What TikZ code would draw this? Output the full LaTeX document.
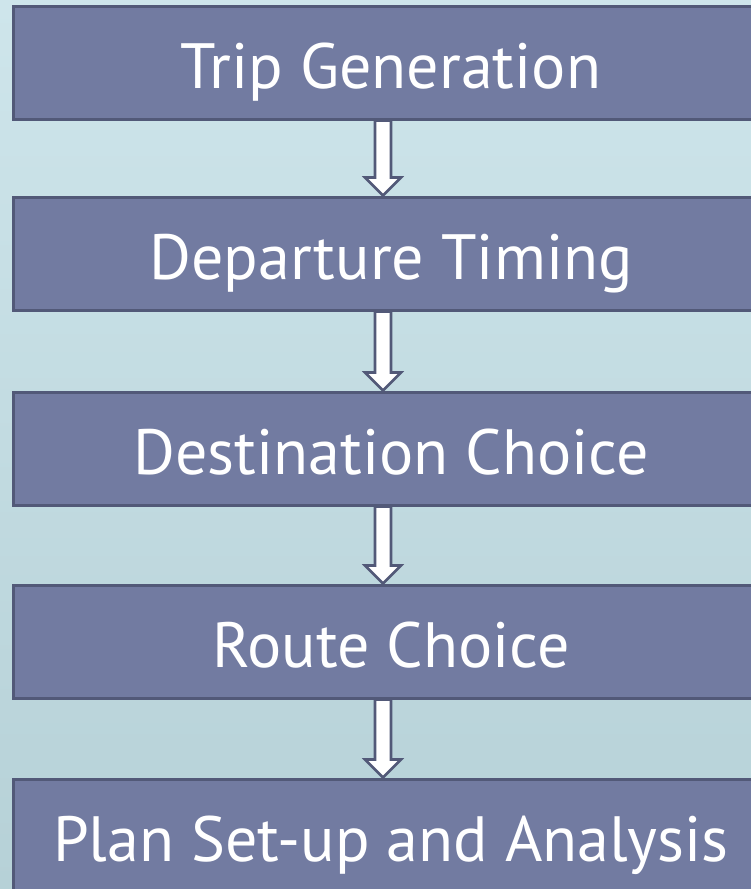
\documentclass[tikz,border=0pt]{standalone}
\usepackage{fontspec}
\setmainfont{PT Sans}
\usetikzlibrary{calc}
\definecolor{bgtop}{RGB}{206,229,235}
\definecolor{bgbot}{RGB}{182,209,215}
\definecolor{boxfill}{RGB}{114,123,161}
\definecolor{boxline}{RGB}{82,89,120}
\tikzset{
  stagebox/.style={rectangle, fill=boxfill, draw=boxline, line width=3pt,
    minimum width=756pt, minimum height=113pt, inner sep=0pt,
    text height=51pt, text depth=0pt,
    text=white, font=\fontsize{64}{70}\selectfont},
  flowarrow/.style={fill=white, draw=boxline, line width=2.6pt, line join=miter}
}
\newcommand{\flowarr}[2]{%
  \draw[flowarrow] let \p1=(#1.south), \p2=(#2.north) in
    (375pt,\y1) -- (375pt,\y2+18pt) -- (365pt,\y2+18pt) -- (383pt,\y2)
    -- (401pt,\y2+18pt) -- (391pt,\y2+18pt) -- (391pt,\y1) -- cycle;}
\begin{document}
\begin{tikzpicture}[x=1pt,y=-1pt]
\useasboundingbox (0,0) rectangle (751,889);
\begin{scope}
\clip (0,0) rectangle (751,889);
\shade[top color=bgtop, bottom color=bgbot] (0,0) rectangle (751,889);
\node[stagebox] (b1) at (391,62.5) {Trip Generation};
\node[stagebox] (b2) at (391,253.5) {Departure Timing};
\node[stagebox] (b3) at (391,448.5) {Destination Choice};
\node[stagebox] (b4) at (391,641.5) {Route Choice};
\node[stagebox] (b5) at (391,835.5) {Plan Set-up and Analysis};
\flowarr{b1}{b2}
\flowarr{b2}{b3}
\flowarr{b3}{b4}
\flowarr{b4}{b5}
\end{scope}
\end{tikzpicture}
\end{document}
